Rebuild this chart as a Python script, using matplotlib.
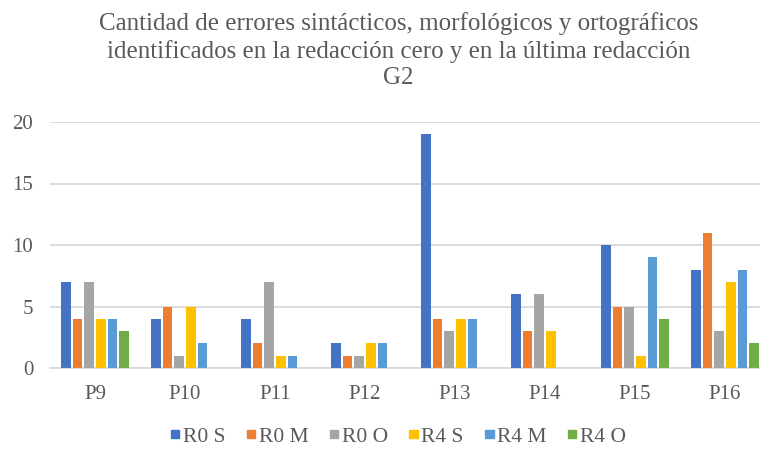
import numpy as np
import matplotlib.pyplot as plt
from matplotlib.patches import Patch

grupos = ['P9', 'P10', 'P11', 'P12', 'P13', 'P14', 'P15', 'P16']
series = ['R0 S', 'R0 M', 'R0 O', 'R4 S', 'R4 M', 'R4 O']
r0_s = [7, 4, 4, 2, 19, 6, 10, 8]
r0_m = [4, 5, 2, 1, 4, 3, 5, 11]
r0_o = [7, 1, 7, 1, 3, 6, 5, 3]
r4_s = [4, 5, 1, 2, 4, 3, 1, 7]
r4_m = [4, 2, 1, 2, 4, 0, 9, 8]
r4_o = [3, 0, 0, 0, 0, 0, 4, 2]
colores = ['#4472C4', '#ED7D31', '#A5A5A5', '#FFC000', '#5B9BD5', '#70AD47']

plt.rcParams['font.family'] = ['Liberation Serif', 'DejaVu Serif']
gris = '#595959'

fig = plt.figure(figsize=(7.6, 4.66), dpi=100)
ax = fig.add_axes([50/760, 98/466, 720/760, 246/466])

x = np.arange(len(grupos))
ancho = 0.78 / 6
datos = [r0_s, r0_m, r0_o, r4_s, r4_m, r4_o]
for i, (vals, c) in enumerate(zip(datos, colores)):
    ax.bar(x + (i - 2.5) * ancho, vals, ancho * 0.82, color=c, zorder=3)

ax.set_xlim(-0.5, len(grupos) - 0.5)
ax.set_ylim(0, 20)
ax.set_yticks([0, 5, 10, 15, 20])
ax.set_xticks(x)
ax.set_xticklabels(grupos)
ax.yaxis.grid(True, color='#d9d9d9', linewidth=1.3, zorder=0)
for s in ['top', 'right', 'left']:
    ax.spines[s].set_visible(False)
ax.spines['bottom'].set_color('#d9d9d9')
ax.spines['bottom'].set_linewidth(1.3)
ax.tick_params(length=0, labelsize=15, colors=gris)
ax.tick_params(axis='x', pad=12)
ax.tick_params(axis='y', pad=12)

fig.text(0.524, 0.974, 'Cantidad de errores sintácticos, morfológicos y ortográficos\n'
         'identificados en la redacción cero y en la última redacción\nG2',
         ha='center', va='top', fontsize=18, color=gris, linespacing=1.25)

handles = [Patch(color=c, label=s) for s, c in zip(series, colores)]
fig.legend(handles=handles, loc='center', bbox_to_anchor=(0.524, 0.062), ncol=6,
           frameon=False, fontsize=15.5, labelcolor=gris, handlelength=0.4,
           handleheight=0.2, handletextpad=0.15, columnspacing=1.0)

fig.savefig('out.png', dpi=100)
